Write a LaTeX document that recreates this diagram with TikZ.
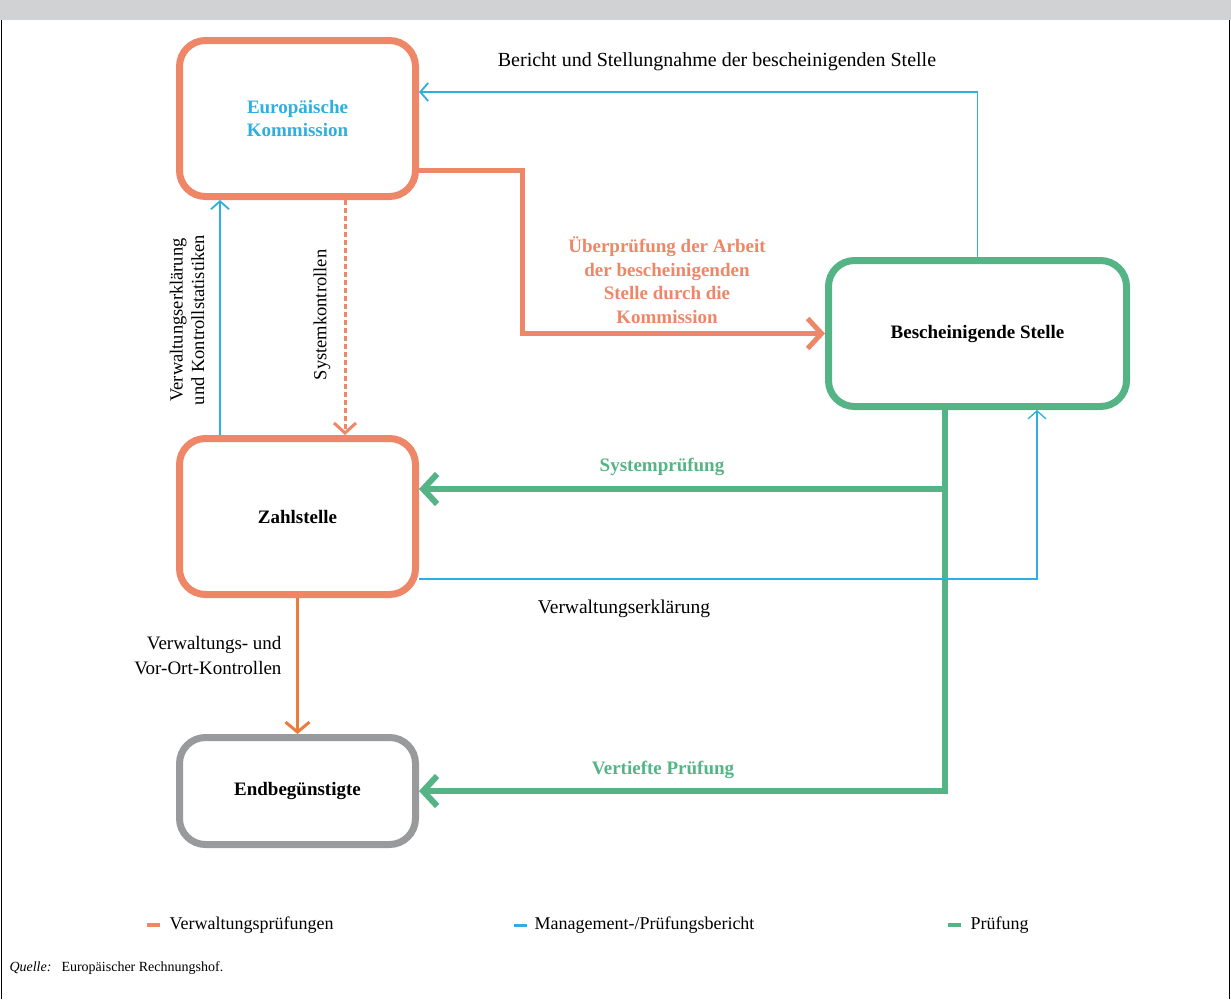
\documentclass[tikz,border=0pt]{standalone}
\usepackage{fontspec}
\setmainfont{Liberation Serif}
\usetikzlibrary{arrows.meta,calc}

\definecolor{admorange}{HTML}{EE8668}
\definecolor{ctrlorange}{HTML}{EA7D3C}
\definecolor{repblue}{HTML}{2FAEE0}
\definecolor{audgreen}{HTML}{55B485}
\definecolor{bengray}{HTML}{999A9B}
\definecolor{topbar}{HTML}{D1D2D4}

\newcommand\txtsize{\fontsize{19}{25}\selectfont}
\newcommand\bigsize{\fontsize{20}{25}\selectfont}
\newcommand\boldsize{\fontsize{19}{23.5}\selectfont\bfseries}

\tikzset{
  body/.style={rounded corners=26pt,line width=7pt,minimum width=236pt,align=center,font=\boldsize},
  admin/.style={-{Straight Barb[length=14pt,width=30pt]},line width=6pt,admorange},
  audit/.style={-{Straight Barb[length=14pt,width=30pt]},line width=6pt,audgreen},
  report/.style={-{Straight Barb[length=8pt,width=18pt]},line width=1.8pt,repblue},
  lbl/.style={align=center,font=\txtsize}
}

\begin{document}
\begin{tikzpicture}[x=1pt,y=-1pt]
\useasboundingbox (0,0) rectangle (1231,999);
\fill[topbar] (0,0) rectangle (1231,20);
\draw[line width=1.2pt] (1.5,20) -- (1.5,999);
\draw[line width=1.2pt] (1229.5,20) -- (1229.5,999);

\node[body,draw=admorange,minimum height=156pt,text=repblue] (ek) at (297.5,118.5) {Europäische\\Kommission};
\node[body,draw=admorange,minimum height=156pt] (zs) at (297.5,516.5) {Zahlstelle};
\node[body,draw=bengray,minimum height=107pt] (eb) at (297.5,791) {Endbegünstigte};
\node[body,draw=audgreen,minimum width=298pt,minimum height=146pt] (bs) at (977.5,333.5) {Bescheinigende Stelle};

\draw[report] (bs.north) |- ([yshift=26.5pt]ek.east);
\node[lbl,font=\bigsize] (berlbl) at (717,62) {Bericht und Stellungnahme der bescheinigenden Stelle};

\draw[admin,line width=5pt] ([yshift=-51.5pt]ek.east) -- ++(103,0) |- (bs.west);
\node[lbl,text=admorange,font=\boldsize] (uebprlbl) at (667,280) {Überprüfung der Arbeit\\der bescheinigenden\\Stelle durch die\\Kommission};

\draw[report] ([xshift=-77.5pt]zs.north) -- ([xshift=-77.5pt]ek.south);
\node[lbl,rotate=90,font=\fontsize{18.5}{21.5}\selectfont] (verwlbl) at (187,320) {Verwaltungserklärung\\und Kontrollstatistiken};

\draw[-{Straight Barb[length=10pt,width=22pt]},line width=3pt,dash pattern=on 5pt off 3pt,admorange] ([xshift=47.5pt]ek.south) -- ([xshift=47.5pt]zs.north);
\node[lbl,rotate=90,font=\fontsize{18.5}{21.5}\selectfont] (syskolbl) at (322,315) {Systemkontrollen};

\coordinate (fork) at ([xshift=-32.5pt]bs.south);
\coordinate (zsin) at ([yshift=27.5pt]zs.east);
\draw[audit] (fork) |- (eb.east);
\draw[audit] (fork |- zsin) -- (zsin);
\node[lbl,text=audgreen,font=\boldsize] (syspruelbl) at (662,467) {Systemprüfung};
\node[lbl,text=audgreen,font=\boldsize] (vertlbl) at (663,770) {Vertiefte Prüfung};

\draw[report,line width=1.3pt] ([yshift=-62.5pt]zs.east) -| ([xshift=59.5pt]bs.south);
\node[lbl,font=\fontsize{19.5}{25}\selectfont] (erkllbl) at (624,609) {Verwaltungserklärung};

\draw[-{Straight Barb[length=10pt,width=24pt]},line width=3pt,ctrlorange] (zs.south) -- (eb.north);
\node[lbl,anchor=east,align=right] (vorortlbl) at (285,656) {Verwaltungs- und\\Vor-Ort-Kontrollen};

% legend
\draw[line width=4.5pt,admorange] (147,925) -- (160,925);
\node[lbl,anchor=west,font=\fontsize{18}{22}\selectfont] (leg1) at (166,925) {Verwaltungsprüfungen};
\draw[line width=3pt,repblue] (514,925) -- (527,925);
\node[lbl,anchor=west,font=\fontsize{18}{22}\selectfont] (leg2) at (531,925) {Management-/Prüfungsbericht};
\draw[line width=4.5pt,audgreen] (948,925) -- (961,925);
\node[lbl,anchor=west,font=\fontsize{18}{22}\selectfont] (leg3) at (967,925) {Prüfung};

\node[anchor=west,font=\fontsize{14}{16}\selectfont\itshape] (srclbl) at (6,968) {Quelle:};
\node[anchor=west,font=\fontsize{14}{16}\selectfont] (srctxt) at (58,968) {Europäischer Rechnungshof.};
\end{tikzpicture}
\end{document}
